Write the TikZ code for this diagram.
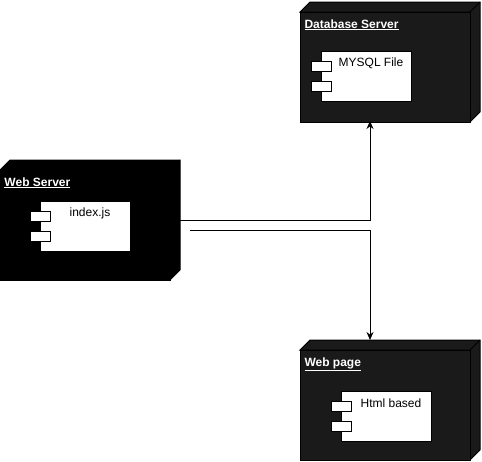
\documentclass[tikz,border=0pt]{standalone}
\usepackage{fontspec}
\setmainfont{Liberation Sans}
\usepackage{tikz}
\usetikzlibrary{arrows.meta}
\definecolor{boxgrey}{RGB}{26,26,26}
\newcommand{\devbox}[5]{% x, y (front top left), name, title, fill   (3d node, 170 x 110, depth 10)
  \draw[fill=#5] (#1,#2) -- ++(10,-10) -- ++(170,0) -- ++(0,110) -- ++(-10,10) -- ++(0,-110) -- cycle;
  \draw (#1+170,#2) -- ++(10,-10);
  \node[draw,fill=#5,minimum width=170pt,minimum height=110pt,inner sep=0,anchor=north west] (#3) at (#1,#2) {};
  \node[font=\fontsize{12}{14}\selectfont\bfseries,text=white,anchor=base west,inner sep=0] (#3-t) at (#1+4,#2+16) {\underline{#4}};}
\newcommand{\comp}[4]{% x, y (top left), name, label   (component, 90 x 50)
  \node[draw,fill=white,minimum width=90pt,minimum height=50pt,inner sep=0,anchor=north west] (#3) at (#1,#2) {};
  \draw[fill=white] (#1-10,#2+10) rectangle (#1+10,#2+20);
  \draw[fill=white] (#1-10,#2+30) rectangle (#1+10,#2+40);
  \node[font=\fontsize{12}{14}\selectfont] (#3-l) at (#1+50,#2+12) {#4};}

\begin{document}
\begin{tikzpicture}[x=1pt,y=-1pt,line width=1pt,conn/.style={-{Stealth[length=8pt,width=7pt]}}]
  \useasboundingbox (0,0) rectangle (482,461);
  % nodes
  \devbox{0}{170}{wsrv}{Web Server}{black}
  \comp{40}{201}{idx}{index.js}
  \devbox{300}{12}{dbsrv}{Database Server}{boxgrey}
  \comp{321}{51}{sql}{MYSQL File}
  \devbox{300}{350}{page}{Web page}{boxgrey}
  \comp{341}{391}{html}{Html based}
  % connectors
  \coordinate (wsout1) at (180,220.5);
  \coordinate (wsout2) at (190,230.5);
  \coordinate (dbin) at (370,121);
  \coordinate (pgin) at (370,340);
  \draw[conn] (wsout1) -| (dbin);
  \draw[conn] (wsout2) -| (pgin);
\end{tikzpicture}
\end{document}
